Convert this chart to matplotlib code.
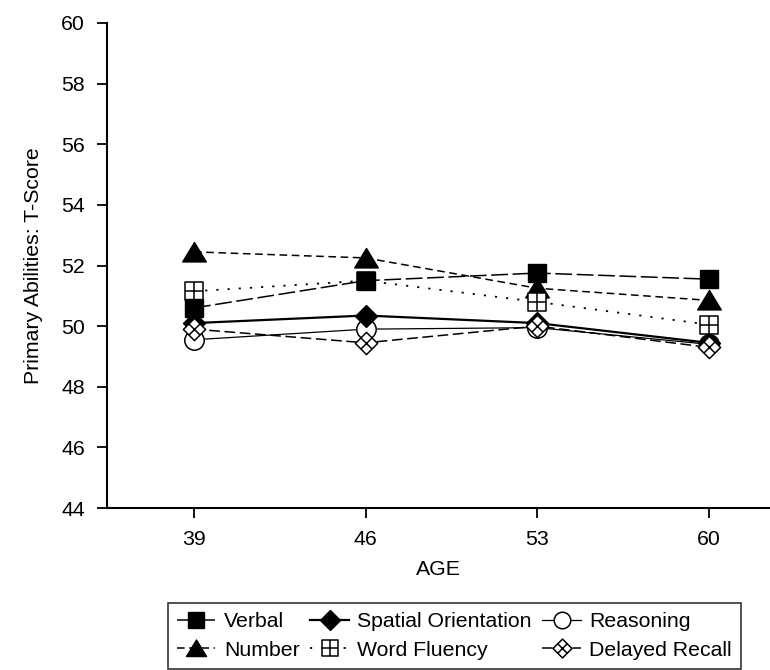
import matplotlib
matplotlib.use("Agg")
import matplotlib.pyplot as plt
from matplotlib.path import Path
import numpy as np

plt.rcParams['font.family'] = ['Liberation Sans', 'DejaVu Sans']

ages = [39, 46, 53, 60]
verbal = [50.6, 51.5, 51.75, 51.55]
spatial = [50.1, 50.35, 50.1, 49.45]
reasoning = [49.55, 49.9, 49.95, 49.4]
number = [52.45, 52.25, 51.25, 50.85]
word_fluency = [51.15, 51.5, 50.8, 50.05]
delayed_recall = [49.9, 49.45, 50.0, 49.3]

y_ticks = [44, 46, 48, 50, 52, 54, 56, 58, 60]

FS = 15.3

# custom markers
grid_sq = Path(
    [(-1, -1), (1, -1), (1, 1), (-1, 1), (-1, -1),
     (0, -1), (0, 1), (-1, 0), (1, 0)],
    [Path.MOVETO, Path.LINETO, Path.LINETO, Path.LINETO, Path.CLOSEPOLY,
     Path.MOVETO, Path.LINETO, Path.MOVETO, Path.LINETO])
grid_dm = Path(
    [(0, -1), (1, 0), (0, 1), (-1, 0), (0, -1),
     (-0.5, -0.5), (0.5, 0.5), (-0.5, 0.5), (0.5, -0.5)],
    [Path.MOVETO, Path.LINETO, Path.LINETO, Path.LINETO, Path.CLOSEPOLY,
     Path.MOVETO, Path.LINETO, Path.MOVETO, Path.LINETO])
tri = Path([(-1, -0.8), (1, -0.8), (0, 0.85), (-1, -0.8)],
           [Path.MOVETO, Path.LINETO, Path.LINETO, Path.CLOSEPOLY])

fig = plt.figure(figsize=(7.7, 6.7), dpi=100)
ax = fig.add_axes([107/770, 1-508/670, 1-107/770, (508-23)/670])

h_num, = ax.plot(ages, number, color='black', lw=1.1, ls=(0, (5, 3)),
                 marker=tri, ms=17, mfc='black', mec='black', label='Number', zorder=3)
h_rea, = ax.plot(ages, reasoning, color='black', lw=0.9, ls='-',
                 marker='o', ms=14, mfc='white', mec='black', mew=1.1, label='Reasoning', zorder=3)
h_spa, = ax.plot(ages, spatial, color='black', lw=1.6, ls='-',
                 marker='D', ms=11.5, mfc='black', mec='black', label='Spatial Orientation', zorder=4)
h_wf, = ax.plot(ages, word_fluency, color='black', lw=1.3, ls=(0, (1.2, 5)),
                marker=grid_sq, ms=13, mfc='white', mec='black', mew=1.1, label='Word Fluency', zorder=4)
h_ver, = ax.plot(ages, verbal, color='black', lw=1.1, ls=(0, (11, 3)),
                 marker='s', ms=13, mfc='black', mec='black', label='Verbal', zorder=5)
h_dr, = ax.plot(ages, delayed_recall, color='black', lw=1.1, ls=(0, (7, 3)),
                marker=grid_dm, ms=16, mfc='white', mec='black', mew=1.1, label='Delayed Recall', zorder=5)

ax.set_xlim(35.45, 62.5)
ax.set_ylim(44, 60)
ax.set_xticks(ages)
ax.set_yticks(y_ticks)
ax.spines['top'].set_visible(False)
ax.spines['right'].set_visible(False)
for s in ('left', 'bottom'):
    ax.spines[s].set_linewidth(1.5)
ax.tick_params(axis='both', labelsize=FS, width=1.3, length=7, pad=9, direction='out')
ax.set_xlabel('AGE', fontsize=FS, labelpad=8)
ax.set_ylabel('Primary Abilities: T-Score', fontsize=FS, labelpad=13)

handles = [h_ver, h_num, h_spa, h_wf, h_rea, h_dr]
leg = fig.legend(handles=handles, labels=[h.get_label() for h in handles],
                 ncol=3, loc='upper left',
                 bbox_to_anchor=(157/770, 1-669/670, (752-157)/770, 77/670),
                 mode='expand', fontsize=FS, frameon=True, fancybox=False,
                 edgecolor='black', handlelength=1.8, handletextpad=0.4,
                 columnspacing=0.4, borderpad=0.45, labelspacing=0.45,
                 markerscale=0.85)
leg.get_frame().set_linewidth(1.2)

fig.savefig('out.png', dpi=100)
